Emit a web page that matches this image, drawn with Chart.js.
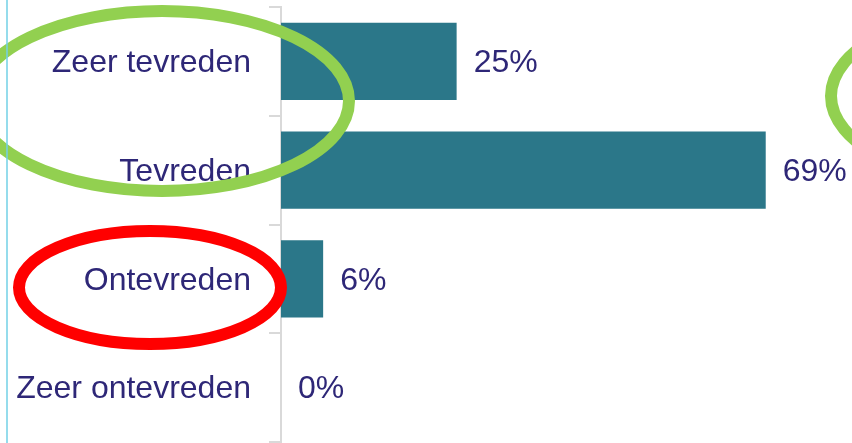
<!DOCTYPE html>
<html>
<head>
<meta charset="utf-8">
<script src="https://cdn.jsdelivr.net/npm/chart.js@4"></script>
<style>
  html, body { margin: 0; padding: 0; background: #ffffff; }
  #wrap { width: 852px; height: 443px; position: relative; }
</style>
</head>
<body>
<div id="wrap"><canvas id="c"></canvas></div>
<script>
const categories = ["Zeer tevreden", "Tevreden", "Ontevreden", "Zeer ontevreden"];
const values = [25, 69, 6, 0];
const valueLabels = values.map(v => v + "%");
const xMin = 0;
const xMax = 80;

const TEXT = "#2e2777";
const BAR = "#2b7789";
const FONT = "'Liberation Sans', Arial, sans-serif";

const overlay = {
  id: "overlay",
  afterDatasetsDraw(chart) {
    const ctx = chart.ctx;
    const meta = chart.getDatasetMeta(0);
    ctx.save();
    ctx.font = "32px " + FONT;
    ctx.fillStyle = TEXT;
    ctx.textAlign = "left";
    ctx.textBaseline = "middle";
    meta.data.forEach((bar, i) => {
      ctx.fillText(valueLabels[i], bar.x + 17, bar.y + 2);
    });
    ctx.restore();
  },
  afterDraw(chart) {
    const ctx = chart.ctx;
    ctx.save();
    ctx.lineWidth = 12;
    ctx.strokeStyle = "#92d050";
    ctx.beginPath();
    ctx.ellipse(162, 101, 187, 90, 0, 0, Math.PI * 2);
    ctx.stroke();
    ctx.beginPath();
    ctx.ellipse(1018, 96, 187, 90, 0, 0, Math.PI * 2);
    ctx.stroke();
    ctx.strokeStyle = "#ff0000";
    ctx.beginPath();
    ctx.ellipse(150, 287.5, 131, 56.5, 0, 0, Math.PI * 2);
    ctx.stroke();
    ctx.strokeStyle = "#72d0e6";
    ctx.lineWidth = 1.5;
    ctx.beginPath();
    ctx.moveTo(7, 0);
    ctx.lineTo(7, 443);
    ctx.stroke();
    ctx.restore();
  }
};

new Chart(document.getElementById("c"), {
  type: "bar",
  data: {
    labels: categories,
    datasets: [{
      data: values,
      backgroundColor: BAR,
      borderWidth: 0,
      categoryPercentage: 1,
      barPercentage: 0.71
    }]
  },
  options: {
    indexAxis: "y",
    responsive: true,
    maintainAspectRatio: false,
    animation: false,
    layout: { padding: { top: 7, bottom: 1, left: 0, right: 9 } },
    plugins: {
      legend: { display: false },
      tooltip: { enabled: false }
    },
    scales: {
      x: {
        display: false,
        min: xMin,
        max: xMax
      },
      y: {
        afterFit(scale) {
          scale.width = 281;
          scale.paddingTop = 0;
          scale.paddingBottom = 0;
        },
        border: { display: true, color: "#d9d9d9", width: 2 },
        grid: {
          drawOnChartArea: false,
          drawTicks: true,
          tickLength: 12,
          color: "#d9d9d9",
          lineWidth: 2
        },
        ticks: {
          padding: 18,
          labelOffset: 2,
          color: TEXT,
          font: { family: FONT, size: 32 }
        }
      }
    }
  },
  plugins: [overlay]
});
</script>
</body>
</html>
